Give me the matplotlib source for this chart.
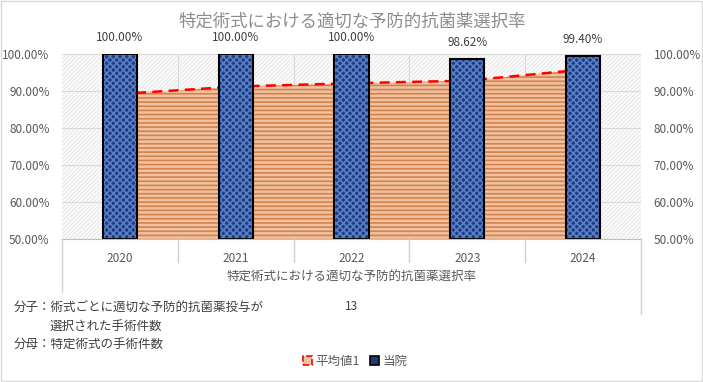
import matplotlib
matplotlib.use("Agg")
import matplotlib.pyplot as plt
from matplotlib.patches import Rectangle, Patch
from matplotlib.lines import Line2D
import matplotlib.transforms as mtransforms

plt.rcParams['font.family'] = ['Noto Sans CJK JP', 'DejaVu Sans']
plt.rcParams['hatch.linewidth'] = 1.2

# Data
years = ['2020', '2021', '2022', '2023', '2024']
hospital = [100.00, 100.00, 100.00, 98.62, 99.40]   # 当院
average = [89.2, 91.2, 92.1, 92.8, 95.8]             # 平均値1
yticks = [50, 60, 70, 80, 90, 100]

title = '特定術式における適切な予防的抗菌薬選択率'
gray = '#595959'

fig = plt.figure(figsize=(7.03, 3.82), dpi=100)
ax = fig.add_axes([62 / 703, 1 - 239 / 382, (641 - 62) / 703, (239 - 54) / 382])

x = list(range(len(years)))
ax.set_xlim(-0.5, len(years) - 0.5)
ax.set_ylim(50, 100)

# plot area background pattern
ax.add_patch(Rectangle((0, 0), 1, 1, transform=ax.transAxes, facecolor='white',
                       edgecolor='#ececec', hatch='////////', lw=0, zorder=0))

# gridlines
for yv in yticks:
    ax.axhline(yv, color='#d9d9d9', lw=0.8, zorder=0.5)
for b in [i - 0.5 for i in range(1, len(years))]:
    ax.axvline(b, color='#d9d9d9', lw=0.8, zorder=0.5)

# average area (striped) with dashed red edge
ax.fill_between(x, 50, average, facecolor='#f0c2a2', edgecolor='#d4834c',
                hatch='----', lw=0, zorder=1)
ax.plot(x, average, color='red', ls=(0, (4, 2.5)), lw=1.8, zorder=1.5)

# hospital bars
ax.bar(x, [h - 50 for h in hospital], bottom=50, width=0.295, color='#1c3a7c',
       edgecolor='#5a7fc8', hatch='xxxxx', lw=0, zorder=2)
ax.bar(x, [h - 50 for h in hospital], bottom=50, width=0.295, fill=False,
       edgecolor='black', lw=1.5, zorder=2.5)

for xi, h in zip(x, hospital):
    ax.annotate(f'{h:.2f}%', (xi, h), xytext=(0, 7), textcoords='offset points',
                ha='center', va='bottom', fontsize=8.5, color='#404040')

# axes styling
ax.set_yticks(yticks)
ax.set_yticklabels([f'{v:.2f}%' for v in yticks], fontsize=8.5, color=gray)
ax.tick_params(axis='y', length=0, pad=9)
ax2 = ax.twinx()
ax2.set_ylim(50, 100)
ax2.set_yticks(yticks)
ax2.set_yticklabels([f'{v:.2f}%' for v in yticks], fontsize=8.5, color=gray)
ax2.tick_params(axis='y', length=0, pad=9)
ax.set_xticks(x)
ax.set_xticklabels(years, fontsize=8.5, color=gray)
ax.tick_params(axis='x', length=0, pad=9)
for a in (ax, ax2):
    for s in a.spines.values():
        s.set_visible(False)
ax.spines['bottom'].set_visible(True)
ax.spines['bottom'].set_color('#bfbfbf')

# multi-level category axis lines
trans = mtransforms.blended_transform_factory(ax.transData, fig.transFigure)
for i in range(len(years) + 1):
    b = i - 0.5
    if i == 0:
        y_end = 1 - 292 / 382
    elif i == len(years):
        y_end = 1 - 314 / 382
    else:
        y_end = 1 - 262 / 382
    fig.add_artist(Line2D([b, b], [1 - 239 / 382, y_end], transform=trans,
                          color='#d0d0d0', lw=1.0))
fig.text(352 / 703, 1 - 277 / 382, title, ha='center', va='center',
         fontsize=9, color=gray)

# title
fig.text(352 / 703, 1 - 22 / 382, title, ha='center', va='center',
         fontsize=12.5, color='#8c8c8c')

# notes
fig.text(14 / 703, 1 - 307 / 382, '分子：術式ごとに適切な予防的抗菌薬投与が',
         ha='left', va='center', fontsize=9, color='#404040')
fig.text(50 / 703, 1 - 326 / 382, '選択された手術件数',
         ha='left', va='center', fontsize=9, color='#404040')
fig.text(14 / 703, 1 - 345 / 382, '分母：特定術式の手術件数',
         ha='left', va='center', fontsize=9, color='#404040')
fig.text(352 / 703, 1 - 307 / 382, '13', ha='center', va='center',
         fontsize=8.5, color='#404040')

# legend
handles = [Patch(facecolor='#f0c2a2', edgecolor='red', ls='--', lw=1.2, label='平均値1'),
           Patch(facecolor='#1c3a7c', edgecolor='black', lw=1.2, label='当院')]
fig.legend(handles=handles, loc='center', bbox_to_anchor=(355 / 703, 1 - 361 / 382),
           ncol=2, frameon=False, fontsize=9, handlelength=0.7, handleheight=0.7,
           handletextpad=0.3, columnspacing=0.8, labelcolor=gray)

# outer frame
fig.add_artist(Rectangle((0.001, 0.002), 0.997, 0.995, transform=fig.transFigure,
                         fill=False, edgecolor='#d9d9d9', lw=1))

fig.savefig('out.png', dpi=100)
